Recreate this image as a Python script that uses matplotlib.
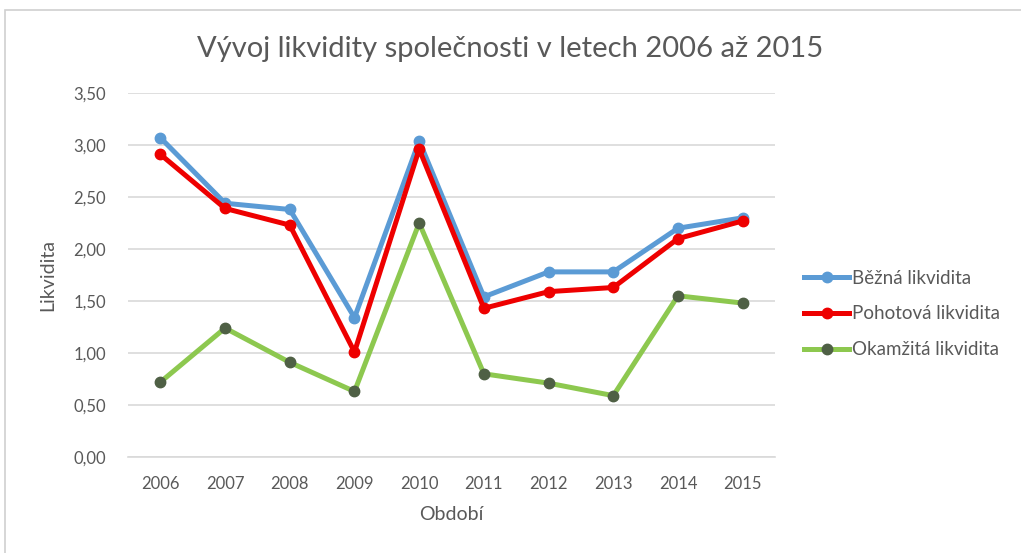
import matplotlib.pyplot as plt
from matplotlib.patches import Rectangle

plt.rcParams['font.family'] = ['Lato', 'DejaVu Sans']

years = ['2006', '2007', '2008', '2009', '2010', '2011', '2012', '2013', '2014', '2015']
bezna = [3.07, 2.44, 2.38, 1.34, 3.04, 1.54, 1.78, 1.78, 2.20, 2.30]
pohotova = [2.91, 2.39, 2.23, 1.01, 2.96, 1.43, 1.59, 1.63, 2.10, 2.27]
okamzita = [0.72, 1.24, 0.91, 0.63, 2.25, 0.80, 0.71, 0.59, 1.55, 1.48]
yticks = [0.0, 0.5, 1.0, 1.5, 2.0, 2.5, 3.0, 3.5]

text_col = '#595959'
grid_col = '#D9D9D9'

fig = plt.figure(figsize=(10.21, 5.53), dpi=100)
fig.patches.append(Rectangle((0.005, -0.05), 1.1, 1.032, transform=fig.transFigure,
                             fill=False, edgecolor='#D0D0D0', linewidth=1.2))
ax = fig.add_axes([0.1254, 0.1736, 0.6337, 0.6582])

x = list(range(len(years)))
ax.plot(x, bezna, color='#5B9BD5', lw=3.6, marker='o', ms=7.5,
        mfc='#5B9BD5', mec='#5B9BD5', label='Běžná likvidita', zorder=3)
ax.plot(x, pohotova, color='#EE0000', lw=3.6, marker='o', ms=7.5,
        mfc='#EE0000', mec='#EE0000', label='Pohotová likvidita', zorder=4)
ax.plot(x, okamzita, color='#8DC84F', lw=3.6, marker='o', ms=7.5,
        mfc='#4F6045', mec='#4F6045', label='Okamžitá likvidita', zorder=3)

ax.set_xlim(-0.5, 9.5)
ax.set_ylim(0, 3.5)
ax.set_yticks(yticks)
ax.set_yticklabels([f'{v:.2f}'.replace('.', ',') for v in yticks])
ax.set_xticks(x)
ax.set_xticklabels(years)
ax.grid(axis='y', color=grid_col, lw=1.2)
ax.set_axisbelow(True)
for s in ['top', 'right', 'left']:
    ax.spines[s].set_visible(False)
ax.spines['bottom'].set_color(grid_col)
ax.spines['bottom'].set_linewidth(1.2)
ax.tick_params(length=0, colors=text_col, labelsize=12)
ax.tick_params(axis='y', pad=16)
ax.tick_params(axis='x', pad=14)

ax.set_xlabel('Období', fontsize=14, color=text_col, labelpad=10)
ax.set_ylabel('Likvidita', fontsize=14, color=text_col, labelpad=12)
fig.text(0.5, 0.912, 'Vývoj likvidity společnosti v letech 2006 až 2015',
         ha='center', va='center', fontsize=21, color=text_col)

leg = ax.legend(loc='center left', bbox_to_anchor=(1.045, 0.393), frameon=False,
                fontsize=13.5, labelspacing=1.0, handlelength=2.4, handletextpad=0.15,
                borderaxespad=0, borderpad=0, labelcolor=text_col)

fig.savefig('out.png', dpi=100)
